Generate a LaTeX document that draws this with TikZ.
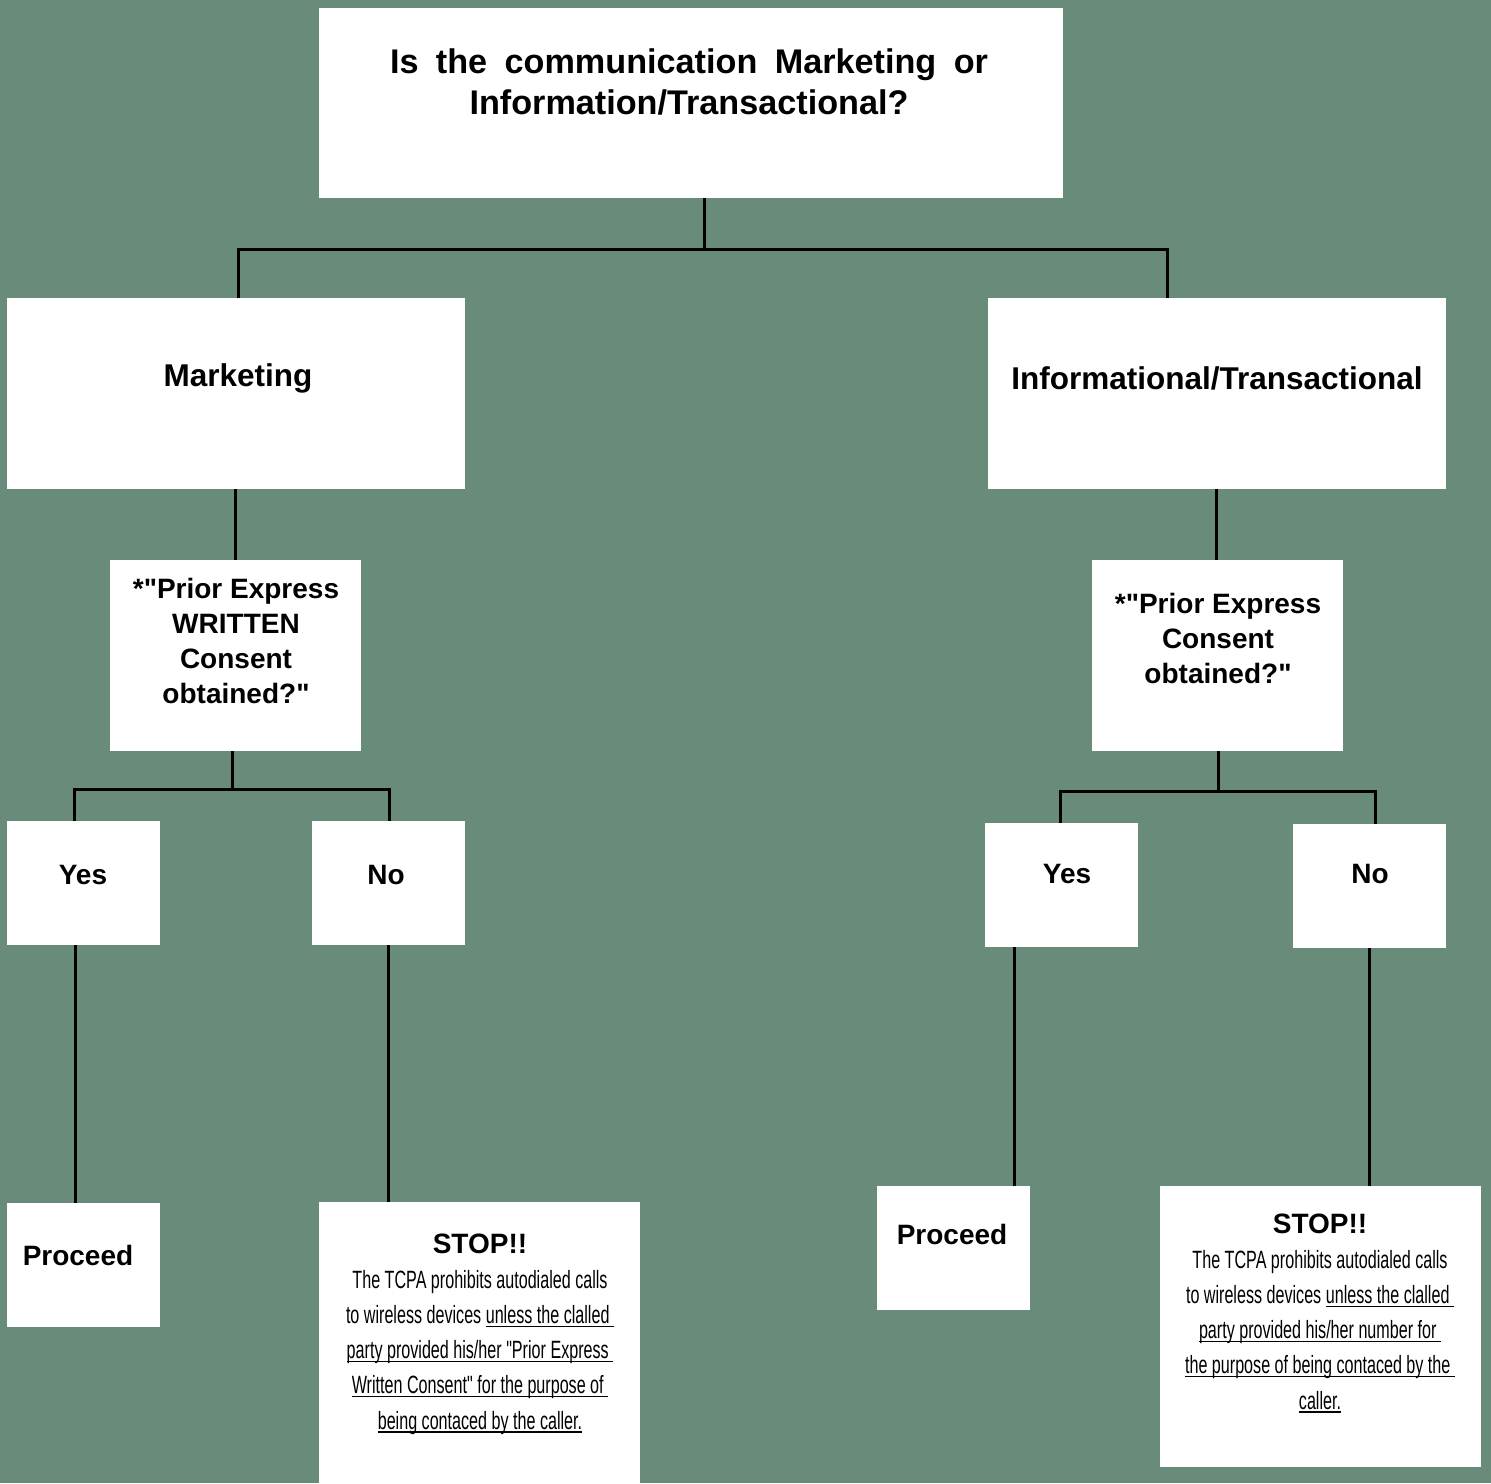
\documentclass[tikz,border=0pt]{standalone}
\usepackage{fontspec}
\setmainfont{Liberation Sans}[Ligatures=TeXOff]
\newfontfamily\condf[FakeStretch=0.645]{Liberation Sans}
\definecolor{bgc}{RGB}{104,139,122}
\newcommand\myul[1]{\setbox0\hbox{#1}\rlap{\rule[-3.5pt]{\wd0}{1.2pt}}\box0}
\begin{document}
\begin{tikzpicture}[x=1pt,y=-1pt,
  box/.style={fill=white, draw=none, inner sep=0pt, anchor=north west},
  conn/.style={line width=3pt, black},
  hd/.style={font=\fontsize{31.5}{41}\selectfont\bfseries, align=center, inner sep=0pt},
  tophd/.style={font=\fontsize{34.2}{41}\selectfont\bfseries, align=center, inner sep=0pt},
  md/.style={font=\fontsize{28}{35}\selectfont\bfseries, align=center, inner sep=0pt},
  body/.style={font=\fontsize{25}{35.2}\selectfont, align=center, inner sep=0pt}]
\useasboundingbox (0,0) rectangle (1491,1483);
\fill[bgc] (0,0) rectangle (1491,1483);
% boxes
\node[box, minimum width=744pt, minimum height=190pt] (top) at (319,8) {};
\node[box, minimum width=458pt, minimum height=191pt] (mk) at (7,298) {};
\node[box, minimum width=458pt, minimum height=191pt] (inf) at (988,298) {};
\node[box, minimum width=251pt, minimum height=191pt] (pwL) at (110,560) {};
\node[box, minimum width=251pt, minimum height=191pt] (pcR) at (1092,560) {};
\node[box, minimum width=153pt, minimum height=124pt] (yesL) at (7,821) {};
\node[box, minimum width=153pt, minimum height=124pt] (noL) at (312,821) {};
\node[box, minimum width=153pt, minimum height=124pt] (yesR) at (985,823) {};
\node[box, minimum width=153pt, minimum height=124pt] (noR) at (1293,824) {};
\node[box, minimum width=153pt, minimum height=124pt] (procL) at (7,1203) {};
\node[box, minimum width=321pt, minimum height=281pt] (stopL) at (319,1202) {};
\node[box, minimum width=153pt, minimum height=124pt] (procR) at (877,1186) {};
\node[box, minimum width=321pt, minimum height=281pt] (stopR) at (1160,1186) {};
% texts
\node[tophd] (topT) at (689,82) {\makebox[598pt][s]{Is the communication Marketing or}\\Information/Transactional?};
\node[hd] (mkT) at (238,378) {Marketing};
\node[hd] (infT) at (1217,378) {Informational/Transactional};
\node[md] (pwT) at (236,641) {*"Prior Express\\WRITTEN\\Consent\\obtained?"};
\node[md] (pcRT) at (1218,638) {*"Prior Express\\Consent\\obtained?"};
\node[md] (yesLT) at (83,875) {Yes};
\node[md] (noLT) at (386,875) {No};
\node[md] (yesRT) at (1067,874) {Yes};
\node[md] (noRT) at (1370,874) {No};
\node[md] (procLT) at (78,1255) {Proceed};
\node[md] (procRT) at (952,1234) {Proceed};
\node[body] (stopLT) at (480,1334) {{\fontsize{28}{35}\selectfont\bfseries STOP!!}\\
  \condf The TCPA prohibits autodialed calls\\
  \condf to wireless devices \myul{unless the clalled\ }\\
  \condf\myul{party provided his/her "Prior Express\ }\\
  \condf\myul{Written Consent" for the purpose of\ }\\
  \condf\myul{being contaced by the caller.}};
\node[body] (stopRT) at (1320,1313) {{\fontsize{28}{35}\selectfont\bfseries STOP!!}\\
  \condf The TCPA prohibits autodialed calls\\
  \condf to wireless devices \myul{unless the clalled\ }\\
  \condf\myul{party provided his/her number for\ }\\
  \condf\myul{the purpose of being contaced by the\ }\\
  \condf\myul{caller.}};
% junction coordinates
\coordinate (j1) at (704,249);
\coordinate (jL) at (238,249);
\coordinate (jR) at (1167,249);
\coordinate (xM) at (235,0);
\coordinate (xI) at (1216,0);
\coordinate (jPL) at (232,789);
\coordinate (jYL) at (74,789);
\coordinate (jNL) at (389,789);
\coordinate (jPR) at (1218,791);
\coordinate (jYR) at (1060,791);
\coordinate (jNR) at (1375,791);
\coordinate (xYL) at (75,0);
\coordinate (xNL) at (388,0);
\coordinate (xYR) at (1014,0);
\coordinate (xNR) at (1369,0);
% connectors
\draw[conn] (top.south -| j1) -- (j1);
\draw[conn] (mk.north -| jL) -- (jL) -- (jR) -- (inf.north -| jR);
\draw[conn] (mk.south -| xM) -- (pwL.north -| xM);
\draw[conn] (inf.south -| xI) -- (pcR.north -| xI);
\draw[conn] (pwL.south -| jPL) -- (jPL);
\draw[conn] (yesL.north -| jYL) -- (jYL) -- (jNL) -- (noL.north -| jNL);
\draw[conn] (pcR.south -| jPR) -- (jPR);
\draw[conn] (yesR.north -| jYR) -- (jYR) -- (jNR) -- (noR.north -| jNR);
\draw[conn] (yesL.south -| xYL) -- (procL.north -| xYL);
\draw[conn] (noL.south -| xNL) -- (stopL.north -| xNL);
\draw[conn] (yesR.south -| xYR) -- (procR.north -| xYR);
\draw[conn] (noR.south -| xNR) -- (stopR.north -| xNR);
\end{tikzpicture}
\end{document}
